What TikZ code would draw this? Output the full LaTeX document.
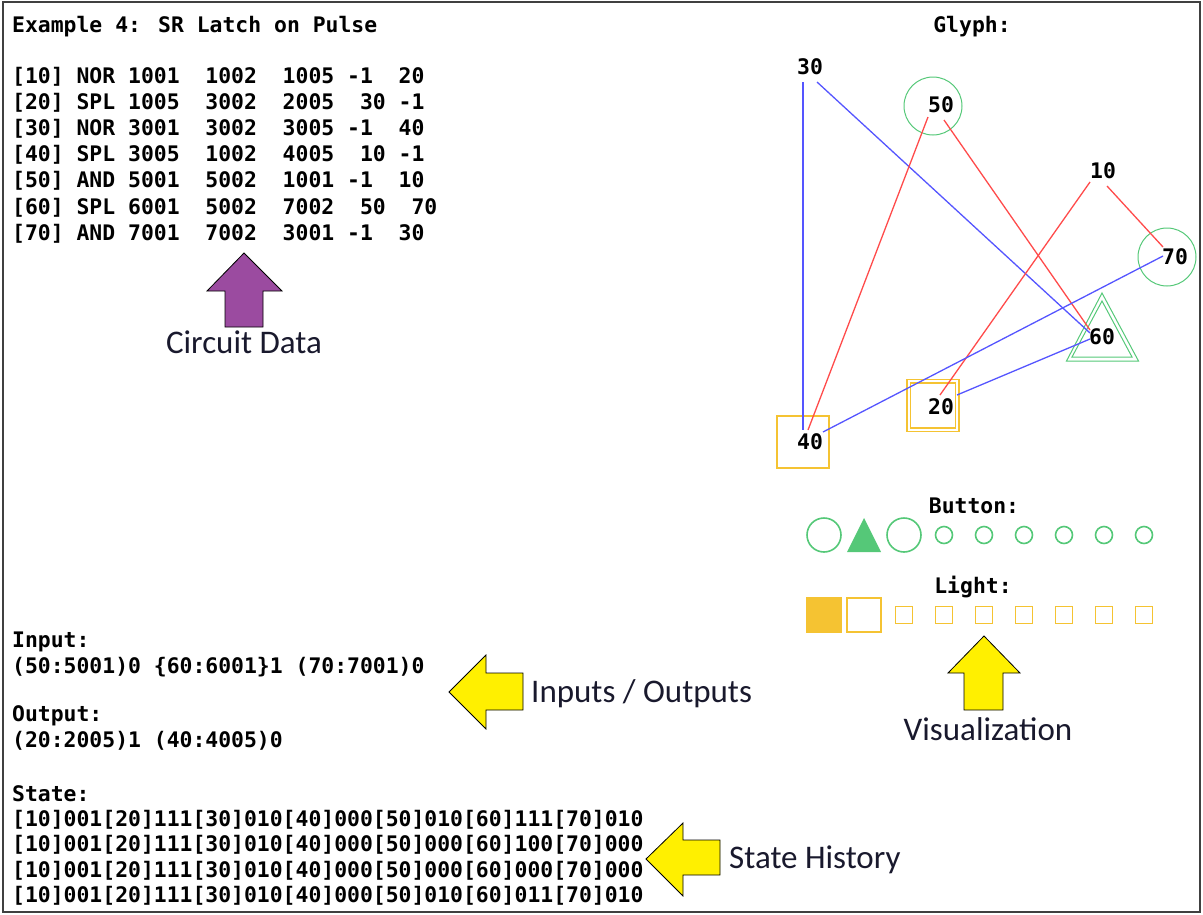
\documentclass[tikz,border=0pt]{standalone}
\usepackage{fontspec}
\setmainfont{DejaVu Sans Mono}
\newfontfamily\monofont{DejaVu Sans Mono}
\newfontfamily\labelfont{Carlito}
\usetikzlibrary{calc}
\definecolor{glyphblue}{RGB}{85,85,255}
\definecolor{glyphred}{RGB}{255,75,75}
\definecolor{btngreen}{RGB}{85,200,120}
\definecolor{lightgold}{RGB}{245,195,50}
\definecolor{arrowpurple}{RGB}{155,75,160}
\definecolor{arrowyellow}{RGB}{255,240,0}
\definecolor{captext}{RGB}{25,25,45}
\begin{document}
\begin{tikzpicture}[x=1pt,y=-1pt,
  mono/.style={font={\monofont\bfseries\fontsize{21.4}{24}\selectfont}, inner sep=0pt, anchor=base west},
  glabel/.style={font={\monofont\bfseries\fontsize{21.4}{24}\selectfont}, inner sep=0pt, anchor=center},
  caption/.style={font={\labelfont\fontsize{33}{36}\selectfont}, text=captext, inner sep=0pt},
  bluewire/.style={glyphblue, line width=1.3},
  redwire/.style={glyphred, line width=1.3},
  gshape/.style={draw=btngreen, line width=1.0, inner sep=0pt},
  yshape/.style={draw=lightgold, line width=1.2, inner sep=0pt},
  btn/.style={circle, draw=btngreen, line width=1.6, inner sep=0pt},
  lamp/.style={rectangle, draw=lightgold, line width=1.6, inner sep=0pt},
  bigarrow/.style={draw=black, line width=0.8, line join=miter}]
\useasboundingbox (0,0) rectangle (1203,914);
\draw[black!75, line width=1.2] (3,2) rectangle (1200,912);

% left texts
\node[mono] (title) at (12,32) {Example 4: SR Latch on Pulse};
\node[mono] (r10) at (12,83.0)  {[10] NOR 1001\ \ 1002\ \ 1005 -1\ \ 20};
\node[mono] (r20) at (12,109.2) {[20] SPL 1005\ \ 3002\ \ 2005\ \ 30 -1};
\node[mono] (r30) at (12,135.4) {[30] NOR 3001\ \ 3002\ \ 3005 -1\ \ 40};
\node[mono] (r40) at (12,161.6) {[40] SPL 3005\ \ 1002\ \ 4005\ \ 10 -1};
\node[mono] (r50) at (12,187.8) {[50] AND 5001\ \ 5002\ \ 1001 -1\ \ 10};
\node[mono] (r60) at (12,214.0) {[60] SPL 6001\ \ 5002\ \ 7002\ \ 50\ \ 70};
\node[mono] (r70) at (12,240.2) {[70] AND 7001\ \ 7002\ \ 3001 -1\ \ 30};

\node[mono] (inlbl) at (12,647) {Input:};
\node[mono] (inval) at (12,673) {(50:5001)0 \{60:6001\}1 (70:7001)0};
\node[mono] (outlbl) at (12,721) {Output:};
\node[mono] (outval) at (12,747) {(20:2005)1 (40:4005)0};

\node[mono] (stlbl) at (12,801) {State:};
\node[mono] (st1) at (12,826) {[10]001[20]111[30]010[40]000[50]010[60]111[70]010};
\node[mono] (st2) at (12,851.5) {[10]001[20]111[30]010[40]000[50]000[60]100[70]000};
\node[mono] (st3) at (12,877) {[10]001[20]111[30]010[40]000[50]000[60]000[70]000};
\node[mono] (st4) at (12,902) {[10]001[20]111[30]010[40]000[50]010[60]011[70]010};

% glyph area
\node[mono, anchor=base] (glyph) at (972,32) {Glyph:};
\node[gshape, circle, minimum size=58] (c50) at (933,106) {};
\node[gshape, circle, minimum size=58] (c70) at (1167,257) {};
\draw[btngreen, line width=1.0] (1102,293) -- (1138.5,361) -- (1066.5,361) -- cycle;
\draw[btngreen, line width=1.0] (1102,301) -- (1132,357) -- (1072,357) -- cycle;
\node[yshape, rectangle, minimum size=52] (s20o) at (933,405.5) {};
\node[yshape, rectangle, minimum size=45] (s20i) at (933,405.5) {};
\node[yshape, rectangle, minimum size=52] (s40) at (803,442) {};

\node[glabel] (n30) at (810,67) {30};
\node[glabel] (n50) at (941,105) {50};
\node[glabel] (n10) at (1103,171) {10};
\node[glabel] (n70) at (1175,257) {70};
\node[glabel] (n60) at (1102,337) {60};
\node[glabel] (n20) at (941,407) {20};
\node[glabel] (n40) at (810,442) {40};

\draw[bluewire] ($(n30)+(-7,15)$) -- ($(n40)+(-7,-12)$);
\draw[bluewire] ($(n30)+(7,15)$) -- ($(n60)+(-12,-4)$);
\draw[redwire] ($(n50)+(-13,12)$) -- ($(n40)+(-2,-12)$);
\draw[redwire] ($(n50)+(3,15)$) -- ($(n60)+(-12,-7)$);
\draw[redwire] ($(n10)+(-13,11)$) -- ($(n20)+(-1,-12)$);
\draw[redwire] ($(n10)+(4,15)$) -- ($(n70)+(-12,-10)$);
\draw[bluewire] ($(n70)+(-12,-1)$) -- ($(n40)+(13,-10)$);
\draw[bluewire] ($(n60)+(-12,2)$) -- ($(n20)+(16,-12)$);

% buttons
\node[mono, anchor=base] (btnlbl) at (974,513) {Button:};
\node[btn, minimum size=34] (b1) at (824,535) {};
\fill[btngreen] (864,518) -- (881,552) -- (847,552) -- cycle;
\node[btn, minimum size=34] (b3) at (904,535) {};
\foreach \i/\xx in {4/944,5/984,6/1024,7/1064,8/1104,9/1144}
  \node[btn, minimum size=17] (b\i) at (\xx,535) {};

% lights
\node[mono, anchor=base] (lightlbl) at (973,593) {Light:};
\node[lamp, fill=lightgold, minimum size=34] (l1) at (824,615) {};
\node[lamp, minimum size=34] (l2) at (864,615) {};
\foreach \i/\xx in {3/904,4/944,5/984,6/1024,7/1064,8/1104,9/1144}
  \node[lamp, minimum size=17] (l\i) at (\xx,615) {};

% callout arrows
\filldraw[bigarrow, fill=arrowpurple] (244,253) -- (282,291) -- (263,291) -- (263,327) -- (225,327) -- (225,291) -- (207,291) -- cycle;
\node[caption, anchor=base] (capcd) at (244,353) {Circuit Data};

\filldraw[bigarrow, fill=arrowyellow] (449,692) -- (486,655) -- (486,673) -- (523,673) -- (523,710) -- (486,710) -- (486,729) -- cycle;
\node[caption, anchor=base west] (capio) at (531,702) {Inputs / Outputs};

\filldraw[bigarrow, fill=arrowyellow] (646,859) -- (683,823) -- (683,840) -- (720,840) -- (720,875) -- (683,875) -- (683,896) -- cycle;
\node[caption, anchor=base west] (capsh) at (729,868) {State History};

\filldraw[bigarrow, fill=arrowyellow] (984,636) -- (1020,673) -- (1003,673) -- (1003,710) -- (964,710) -- (964,673) -- (948,673) -- cycle;
\node[caption, anchor=base] (capvis) at (988,740) {Visualization};
\end{tikzpicture}
\end{document}
